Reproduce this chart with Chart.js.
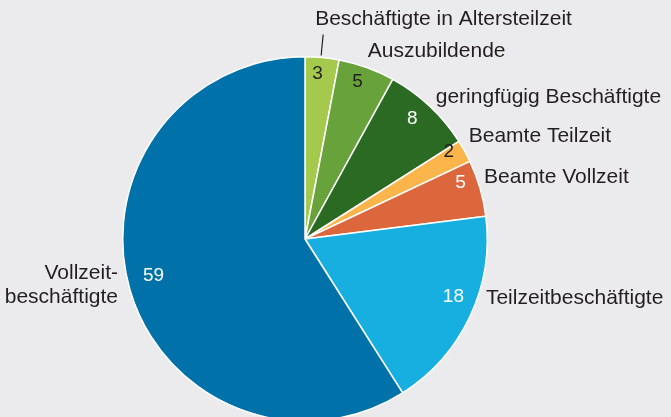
<!DOCTYPE html>
<html>
<head>
<meta charset="utf-8">
<script src="https://cdn.jsdelivr.net/npm/chart.js@4"></script>
<style>
  html, body { margin: 0; padding: 0; background: #ebebee; overflow: hidden; }
  #wrap { width: 671px; height: 417px; overflow: hidden; }
</style>
</head>
<body>
<div id="wrap"><canvas id="pie" width="671" height="430"></canvas></div>
<script>
const labels = [
    'Beschäftigte in Altersteilzeit',
    'Auszubildende',
    'geringfügig Beschäftigte',
    'Beamte Teilzeit',
    'Beamte Vollzeit',
    'Teilzeitbeschäftigte',
    ['Vollzeit-', 'beschäftigte']
];
const values = [3, 5, 8, 2, 5, 18, 59];
const colors = ['#a4c94c', '#68a23a', '#2b6a23', '#fbb54b', '#dc673d', '#16afe0', '#0072a9'];
const valueColors = ['#231f20', '#231f20', '#ffffff', '#231f20', '#ffffff', '#ffffff', '#ffffff'];

// label placement relative to the outer edge at each slice's mid angle
const labelOffsets = [[-7, -38], [1, -16], [6, -9], [4, -15], [4, -11], [16, -18], [-12, -5]];
const labelAlign = ['left', 'left', 'left', 'left', 'left', 'left', 'right'];
// value placement relative to 0.9 * radius at mid angle
const valueOffsets = [[-3, -2], [-3, -3], [-5, -1], [0, -8], [-2, -10], [0, -12], [6, -9]];

const textColor = '#231f20';

const pieLabels = {
    id: 'pieLabels',
    afterDraw(chart) {
        const ctx = chart.ctx;
        const arcs = chart.getDatasetMeta(0).data;
        ctx.save();
        arcs.forEach((arc, i) => {
            const p = arc.getProps(['x', 'y', 'startAngle', 'endAngle', 'outerRadius'], true);
            const mid = (p.startAngle + p.endAngle) / 2;
            const cos = Math.cos(mid), sin = Math.sin(mid);

            // value inside slice
            const vr = p.outerRadius * 0.9;
            ctx.font = '19px "Liberation Sans", Arial, sans-serif';
            ctx.fillStyle = valueColors[i];
            ctx.textAlign = 'center';
            ctx.textBaseline = 'middle';
            ctx.fillText(String(values[i]), p.x + cos * vr + valueOffsets[i][0], p.y + sin * vr + valueOffsets[i][1]);

            // outside label
            const ex = p.x + cos * p.outerRadius;
            const ey = p.y + sin * p.outerRadius;
            const lx = ex + labelOffsets[i][0];
            const ly = ey + labelOffsets[i][1];
            ctx.font = '21px "Liberation Sans", Arial, sans-serif';
            ctx.fillStyle = textColor;
            ctx.textAlign = labelAlign[i];
            const lines = Array.isArray(labels[i]) ? labels[i] : [labels[i]];
            const lh = 24;
            lines.forEach((line, j) => {
                ctx.fillText(line, lx, ly + (j - (lines.length - 1) / 2) * lh);
            });

            // leader line for the thin top slice
            if (i === 0) {
                ctx.strokeStyle = textColor;
                ctx.lineWidth = 1.2;
                ctx.beginPath();
                ctx.moveTo(ex - 1, ey - 2);
                ctx.lineTo(ex + 1, ey - 23);
                ctx.stroke();
            }
        });
        ctx.restore();
    }
};

new Chart(document.getElementById('pie'), {
    type: 'pie',
    data: {
        labels: labels,
        datasets: [{
            data: values,
            backgroundColor: colors,
            borderColor: '#ffffff',
            borderWidth: 1.5
        }]
    },
    options: {
        responsive: false,
        animation: false,
        layout: { padding: { left: 122, top: 56, right: 183, bottom: 8 } },
        plugins: {
            legend: { display: false },
            tooltip: { enabled: false }
        }
    },
    plugins: [pieLabels]
});
</script>
</body>
</html>
